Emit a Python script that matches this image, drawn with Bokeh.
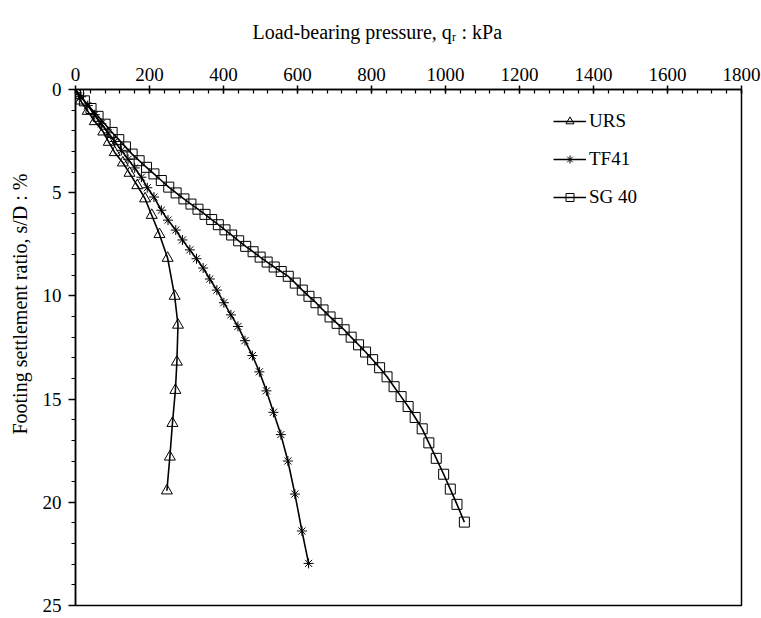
from bokeh.plotting import figure
from bokeh.models import Range1d, SingleIntervalTicker, Title
from bokeh.embed import file_html
from bokeh.resources import INLINE

# ---- data ----
urs_q = [0, 14, 33, 52, 75, 90, 106, 128, 146, 167, 188, 206, 227, 249, 268, 277, 274, 270, 262, 255, 247]
urs_s = [0, 0.55, 1.05, 1.55, 2.05, 2.55, 3.05, 3.55, 4.05, 4.65, 5.29, 6.09, 7.02, 8.17, 10.01, 11.41, 13.2, 14.57, 16.17, 17.8, 19.44]

tf_q = [0, 15, 33, 52, 70, 88, 106, 124, 142, 160, 178, 194, 212, 232, 250, 271, 289, 309, 327, 345, 363, 382,
        401, 420, 439, 458, 478, 497, 516, 535, 555, 574, 593, 612, 630]
tf_s = [0, 0.35, 0.78, 1.22, 1.66, 2.1, 2.52, 2.95, 3.38, 3.8, 4.25, 4.76, 5.21, 5.85, 6.33, 6.81, 7.29, 7.77, 8.2, 8.65, 9.18, 9.72,
        10.33, 10.92, 11.48, 12.17, 12.89, 13.68, 14.6, 15.64, 16.72, 18.0, 19.6, 21.39, 22.96]

sg_q = [0, 8, 24, 42, 61, 80, 99, 117, 135, 153, 172, 192, 212, 232, 252, 272, 293, 312, 331,
        350, 368, 386, 404, 422, 441, 460, 480, 499, 518, 537, 556, 575, 594, 613, 631, 650, 669,
        688, 707, 726, 745, 765, 784, 803, 822, 842, 861, 880, 899, 918, 937, 955, 975, 995, 1013, 1031, 1051]
sg_s = [0, 0.2, 0.55, 0.92, 1.3, 1.68, 2.08, 2.43, 2.78, 3.13, 3.45, 3.77, 4.09, 4.41, 4.73, 5.01, 5.3, 5.55, 5.8,
        6.05, 6.3, 6.55, 6.8, 7.05, 7.33, 7.6, 7.86, 8.12, 8.36, 8.6, 8.82, 9.05, 9.38, 9.72, 10.02, 10.33, 10.68,
        11.02, 11.33, 11.64, 12.0, 12.37, 12.72, 13.09, 13.48, 13.92, 14.4, 14.88, 15.36, 15.89, 16.44, 17.12, 17.87,
        18.64, 19.36, 20.1, 20.96]

x_title = "Load-bearing pressure, qᵣ : kPa"
y_title = "Footing settlement ratio, s/D : %"

x_ticks_interval = 200
y_ticks_interval = 5

FONT = "'Liberation Serif', 'Times New Roman', serif"

p = figure(width=761, height=618,
           x_range=Range1d(0, 1800), y_range=Range1d(25, 0),
           x_axis_location="above",
           output_backend="svg", toolbar_location=None,
           min_border_left=74, min_border_top=88, min_border_right=20, min_border_bottom=13)

p.xgrid.visible = False
p.ygrid.visible = False
p.outline_line_color = "black"
p.outline_line_width = 1.5
p.outline_line_alpha = 1.0
p.background_fill_color = "white"

xa = p.xaxis[0]
xa.ticker = SingleIntervalTicker(interval=x_ticks_interval, num_minor_ticks=5)
xa.major_tick_in = 4
xa.major_tick_out = 4
xa.minor_tick_in = 4
xa.minor_tick_out = 0
xa.major_label_standoff = 5

ya = p.yaxis[0]
ya.ticker = SingleIntervalTicker(interval=y_ticks_interval, num_minor_ticks=5)
ya.major_tick_in = 0
ya.major_tick_out = 7
ya.minor_tick_in = 0
ya.minor_tick_out = 4
ya.major_label_standoff = 7

for ax in (xa, ya):
    ax.axis_line_color = "black"
    ax.axis_line_width = 1.5
    ax.major_tick_line_color = "black"
    ax.major_tick_line_width = 1.5
    ax.minor_tick_line_color = "black"
    ax.minor_tick_line_width = 1.2
    ax.major_label_text_font = FONT
    ax.major_label_text_font_size = "19px"
    ax.major_label_text_color = "black"

# axis titles as side-panel titles (slightly off-centre, like the reference)
p.add_layout(Title(text=x_title, align="left", offset=177, standoff=40, vertical_align="top",
                   text_font=FONT, text_font_size="20px", text_font_style="normal",
                   text_color="black"), "above")
p.add_layout(Title(text=y_title, align="right", offset=84, standoff=15, vertical_align="middle",
                   text_font=FONT, text_font_size="20px", text_font_style="normal",
                   text_color="black"), "left")

series = [
    ("URS", urs_q, urs_s, "triangle", 11),
    ("TF41", tf_q, tf_s, "asterisk", 10),
    ("SG 40", sg_q, sg_s, "square", 10),
]
for name, q, s, mk, sz in series:
    p.line(q, s, line_color="black", line_width=1.6, legend_label=name)
    p.scatter(q, s, marker=mk, size=sz, fill_color=None, line_color="black",
              line_width=1, legend_label=name)

lg = p.legend[0]
lg.location = (478, 397)
lg.border_line_color = None
lg.background_fill_alpha = 0
lg.label_text_font = FONT
lg.label_text_font_size = "19px"
lg.label_text_color = "black"
lg.glyph_width = 33
lg.glyph_height = 20
lg.label_height = 20
lg.spacing = 16
lg.padding = 0
lg.margin = 0
lg.label_standoff = 3

open("out.html", "w").write(file_html(p, INLINE))
